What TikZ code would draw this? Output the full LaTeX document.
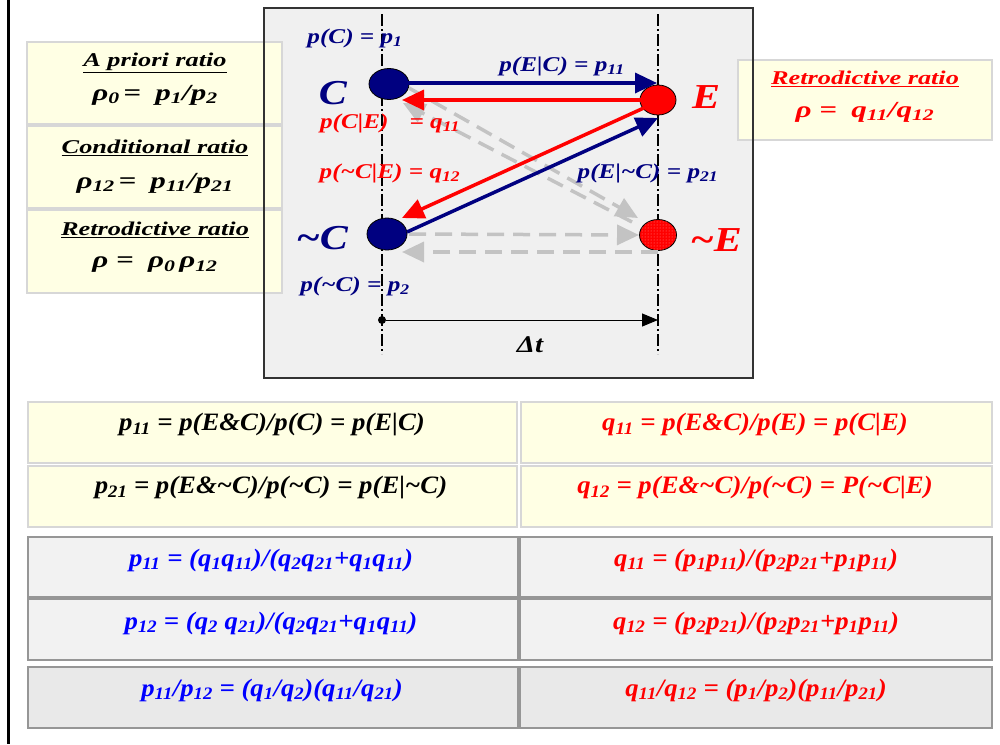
\documentclass[tikz,border=0pt]{standalone}
\usepackage{fontspec}
\setmainfont{Liberation Serif}
\newfontfamily\fA[FakeStretch=1.35]{Liberation Serif}
\newfontfamily\fB[FakeStretch=1.2]{Liberation Serif}
\newfontfamily\fC[FakeStretch=1.07]{Liberation Serif}
\usetikzlibrary{arrows.meta,calc,patterns,shapes.geometric}
\definecolor{navy}{RGB}{0,0,128}
\definecolor{tblue}{RGB}{0,0,255}
\definecolor{tred}{RGB}{255,0,0}
\definecolor{agray}{RGB}{195,195,195}
\definecolor{pyellow}{RGB}{255,255,228}
\definecolor{ybord}{RGB}{215,215,215}
\definecolor{gboxc}{RGB}{242,242,242}
\definecolor{gboxd}{RGB}{233,233,233}
\definecolor{gbord}{RGB}{150,150,150}
\definecolor{cboxc}{RGB}{240,240,240}
\newcommand\tld{\textasciitilde}
\newcommand\sbx[1]{\textsubscript{#1}}
\tikzset{
  lab/.style={inner sep=0pt, font=\fB\bfseries\itshape\fontsize{21}{24}\selectfont},
  biglab/.style={inner sep=0pt, font=\fB\bfseries\itshape\fontsize{35}{40}\selectfont},
  boxt/.style={inner sep=0pt, font=\fA\bfseries\itshape\fontsize{19.5}{22}\selectfont},
  boxf/.style={inner sep=0pt, font=\fA\bfseries\itshape\fontsize{23}{26}\selectfont},
  tbl/.style={inner sep=0pt, font=\fC\bfseries\itshape\fontsize{25}{30}\selectfont},
  ybox/.style={draw=ybord, line width=1.5pt, fill=pyellow, inner sep=0pt},
  gbox/.style={draw=gbord, line width=1.5pt, fill=gboxc, inner sep=0pt},
  evt/.style={ellipse, draw=black, line width=0.8pt, inner sep=0pt},
  carrow/.style={line width=3.5pt, -{Triangle[length=22pt,width=20pt]}},
  garrow/.style={line width=3.5pt, agray, dash pattern=on 17pt off 9pt, -{Triangle[length=22pt,width=20pt]}},
  vline/.style={line width=1.5pt, dash pattern=on 12pt off 3pt on 2pt off 3pt},
}
\begin{document}
\begin{tikzpicture}[x=1pt,y=-1pt]
\useasboundingbox[fill=white] (0,0) rectangle (1000,744);
\draw[line width=3pt] (8,0) -- (8,744);

% central frame (fill first)
\node[fill=cboxc, inner sep=0pt, minimum width=489pt, minimum height=370pt] (frame) at (508.5,193) {};

% left info boxes
\node[ybox, minimum width=255pt, minimum height=82pt] (b1) at (154.5,83) {};
\node[ybox, minimum width=255pt, minimum height=82pt] (b2) at (154.5,167) {};
\node[ybox, minimum width=255pt, minimum height=83pt] (b3) at (154.5,251.5) {};
\node[ybox, minimum width=254pt, minimum height=80pt] (b4) at (865,100) {};
\draw[line width=1.5pt, black!80] (frame.north west) rectangle (frame.south east);

\node[boxt] (t1) at (155,63) {\underline{A priori ratio}};
\node[boxf] (f1) at (155,95) {ρ\sbx{0}\,=\; p\sbx{1}/p\sbx{2}};
\node[boxt] (t2) at (155,148) {\underline{Conditional ratio}};
\node[boxf] (f2) at (155,183) {ρ\sbx{12}\,=\; p\sbx{11}/p\sbx{21}};
\node[boxt] (t3) at (155,230) {\underline{Retrodictive ratio}};
\node[boxf] (f3) at (155,265) {ρ =\; ρ\sbx{0}\,ρ\sbx{12}};
\node[boxt, text=tred] (t4) at (865,79) {\underline{Retrodictive ratio}};
\node[boxf, text=tred] (f4) at (865,112) {ρ =\; q\sbx{11}/q\sbx{12}};

% time axes
\coordinate (a1) at (382,14); \coordinate (a2) at (382,354);
\coordinate (b1t) at (658,14); \coordinate (b2t) at (658,354);
\draw[vline] (a1) -- (a2);
\draw[vline] (b1t) -- (b2t);

% events
\node[evt, fill=navy, minimum width=40pt, minimum height=31pt] (C) at (389,84) {};
\node[evt, fill=tred, minimum width=36pt, minimum height=30pt] (E) at (658,100) {};
\node[evt, fill=navy, minimum width=40pt, minimum height=32pt] (nC) at (387,234) {};
\node[evt, fill=tred, minimum width=37pt, minimum height=31pt, postaction={pattern=dots, pattern color=white!55!tred}] (nE) at (658,235) {};

% gray dashed arrows
\draw[garrow] ($(C.center)+(20,4)$) -- ($(nE.center)+(-20,-17)$);
\draw[garrow] ($(nE.center)+(-26,-13)$) -- ($(C.center)+(14,19)$);
\draw[garrow] ($(nC.center)+(22,0)$) -- ($(nE.center)+(-19,0)$);
\draw[garrow] ($(nE.center)+(0,17)$) -- ($(nC.center)+(15,18)$);

% solid arrows
\draw[carrow, navy] ($(C.center)+(0,-1)$) -- ($(E.center)+(-1,-17)$);
\draw[carrow, tred] ($(E.center)+(-5,0)$) -- ($(C.center)+(13,16)$);
\draw[carrow, tred] ($(E.center)+(-12,7)$) -- ($(nC.center)+(15,-16)$);
\draw[carrow, navy] ($(nC.center)+(20,-2)$) -- ($(E.center)+(0,18)$);

% labels
\node[lab, text=navy] (lpc) at (355,38) {p(C) = p\sbx{1}};
\node[lab, text=navy] (lpec) at (562,66) {p(E|C) = p\sbx{11}};
\node[lab, text=tred] (lpce) at (390,123) {p(C|E)\quad = q\sbx{11}};
\node[lab, text=tred] (lpnce) at (390,173) {p(\tld C|E) = q\sbx{12}};
\node[lab, text=navy] (lpenc) at (648,173) {p(E|\tld C) = p\sbx{21}};
\node[lab, text=navy] (lpnc) at (355,286) {p(\tld C) = p\sbx{2}};
\node[biglab, text=navy] (lC) at (333,93) {C};
\node[biglab, text=tred] (lE) at (706,97) {E};
\node[biglab, text=navy] (lnC) at (322,238) {\tld C};
\node[biglab, text=tred] (lnE) at (716,240) {\tld E};

% delta t
\node[circle, fill=black, inner sep=0pt, minimum size=8pt] (t0) at (382,320) {};
\coordinate (tend) at (658,320);
\draw[line width=1pt, -{Triangle[length=16pt,width=13pt]}] (t0) -- (tend);
\node[lab, font=\fB\bfseries\itshape\fontsize{24}{28}\selectfont] (dt) at (530,345) {Δt};

% tables
\node[ybox, minimum width=489pt, minimum height=61pt] (r1l) at (272.5,432.5) {};
\node[ybox, minimum width=471pt, minimum height=61pt] (r1r) at (756.5,432.5) {};
\node[ybox, minimum width=489pt, minimum height=61pt] (r2l) at (272.5,496.5) {};
\node[ybox, minimum width=471pt, minimum height=61pt] (r2r) at (756.5,496.5) {};
\node[gbox, minimum width=490pt, minimum height=60pt] (r3l) at (273,567) {};
\node[gbox, minimum width=472pt, minimum height=60pt] (r3r) at (756,567) {};
\node[gbox, minimum width=490pt, minimum height=61pt] (r4l) at (273,629.5) {};
\node[gbox, minimum width=472pt, minimum height=61pt] (r4r) at (756,629.5) {};
\node[gbox, fill=gboxd, minimum width=490pt, minimum height=61pt] (r5l) at (273,697.5) {};
\node[gbox, fill=gboxd, minimum width=472pt, minimum height=61pt] (r5r) at (756,697.5) {};

\node[tbl] (x1l) at (272,425) {p\sbx{11} = p(E\&C)/p(C) = p(E|C)};
\node[tbl, text=tred] (x1r) at (755,425) {q\sbx{11} = p(E\&C)/p(E) = p(C|E)};
\node[tbl] (x2l) at (271,488) {p\sbx{21} = p(E\&\tld C)/p(\tld C) = p(E|\tld C)};
\node[tbl, text=tred] (x2r) at (755,488) {q\sbx{12} = p(E\&\tld C)/p(\tld C) = P(\tld C|E)};
\node[tbl, text=tblue] (x3l) at (271,560) {p\sbx{11} = (q\sbx{1}q\sbx{11})/(q\sbx{2}q\sbx{21}+q\sbx{1}q\sbx{11})};
\node[tbl, text=tred] (x3r) at (756,560) {q\sbx{11} = (p\sbx{1}p\sbx{11})/(p\sbx{2}p\sbx{21}+p\sbx{1}p\sbx{11})};
\node[tbl, text=tblue] (x4l) at (271,623) {p\sbx{12} = (q\sbx{2} q\sbx{21})/(q\sbx{2}q\sbx{21}+q\sbx{1}q\sbx{11})};
\node[tbl, text=tred] (x4r) at (756,623) {q\sbx{12} = (p\sbx{2}p\sbx{21})/(p\sbx{2}p\sbx{21}+p\sbx{1}p\sbx{11})};
\node[tbl, text=tblue] (x5l) at (272,690) {p\sbx{11}/p\sbx{12} = (q\sbx{1}/q\sbx{2})(q\sbx{11}/q\sbx{21})};
\node[tbl, text=tred] (x5r) at (756,690) {q\sbx{11}/q\sbx{12} = (p\sbx{1}/p\sbx{2})(p\sbx{11}/p\sbx{21})};
\end{tikzpicture}
\end{document}
